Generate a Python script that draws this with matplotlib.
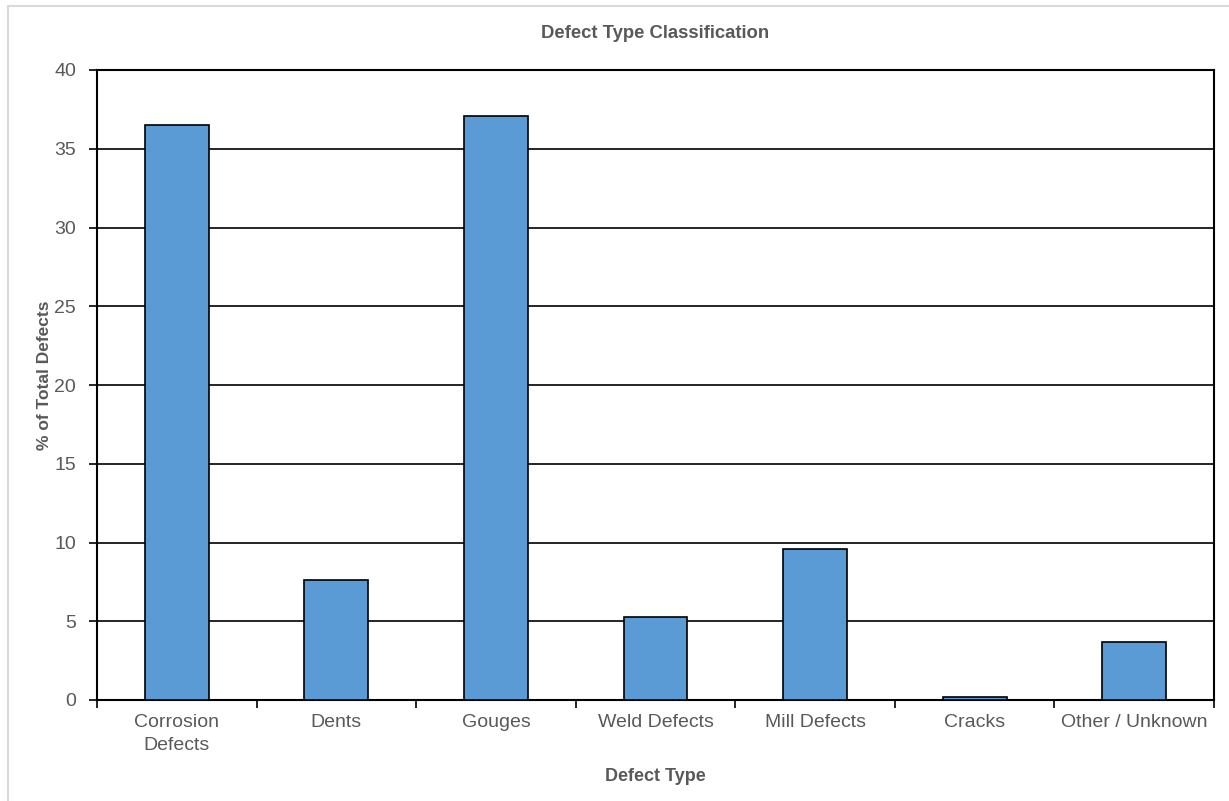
import matplotlib.pyplot as plt
import numpy as np
from matplotlib.patches import Rectangle

# defect share per category (% of total)
categories = ['Corrosion\nDefects', 'Dents', 'Gouges', 'Weld Defects',
              'Mill Defects', 'Cracks', 'Other / Unknown']
percent_of_total = [36.5, 7.6, 37.1, 5.3, 9.6, 0.2, 3.7]
y_ticks = [0, 5, 10, 15, 20, 25, 30, 35, 40]

plt.rcParams['font.family'] = ['Liberation Sans', 'DejaVu Sans']
text_color = '#595959'

fig = plt.figure(figsize=(12.29, 8.01), dpi=100)
ax = fig.add_axes([97 / 1229, 1 - 700 / 801, (1214 - 97) / 1229, 630 / 801])

# thin grey chart frame
fig.patches.append(Rectangle((8 / 1229, -0.01), 1.0, 1 - 6 / 801 + 0.01,
                             transform=fig.transFigure, fill=False,
                             edgecolor='#d9d9d9', linewidth=1.5))

positions = np.arange(len(categories))
ax.bar(positions, percent_of_total, width=0.4, color='#5b9bd5',
       edgecolor='black', linewidth=1.2, zorder=3)

ax.set_xlim(-0.5, len(categories) - 0.5)
ax.set_ylim(0, 40)
ax.set_yticks(y_ticks)
ax.yaxis.grid(True, color='black', linewidth=1.2, zorder=0)

# category labels sit between boundary ticks
ax.set_xticks(positions)
ax.set_xticklabels(categories, color=text_color, fontsize=14, linespacing=1.5)
ax.tick_params(axis='x', which='major', length=0, pad=10)
ax.set_xticks(np.arange(-0.5, len(categories), 1.0), minor=True)
ax.tick_params(axis='x', which='minor', length=6, width=1.2, direction='out')
ax.tick_params(axis='y', length=6, width=1.2, labelsize=14, labelcolor=text_color, pad=9)

for spine in ax.spines.values():
    spine.set_linewidth(1.5)
    spine.set_color('black')

ax.set_title('Defect Type Classification', fontsize=13.3, fontweight='bold',
             color=text_color, pad=23)
ax.set_xlabel('Defect Type', fontsize=13, fontweight='bold', color=text_color, labelpad=10)
ax.set_ylabel('% of Total Defects', fontsize=12.5, fontweight='bold', color=text_color, labelpad=2)
ax.yaxis.label.set_y(0.516)

plt.savefig('out.png', dpi=100)
